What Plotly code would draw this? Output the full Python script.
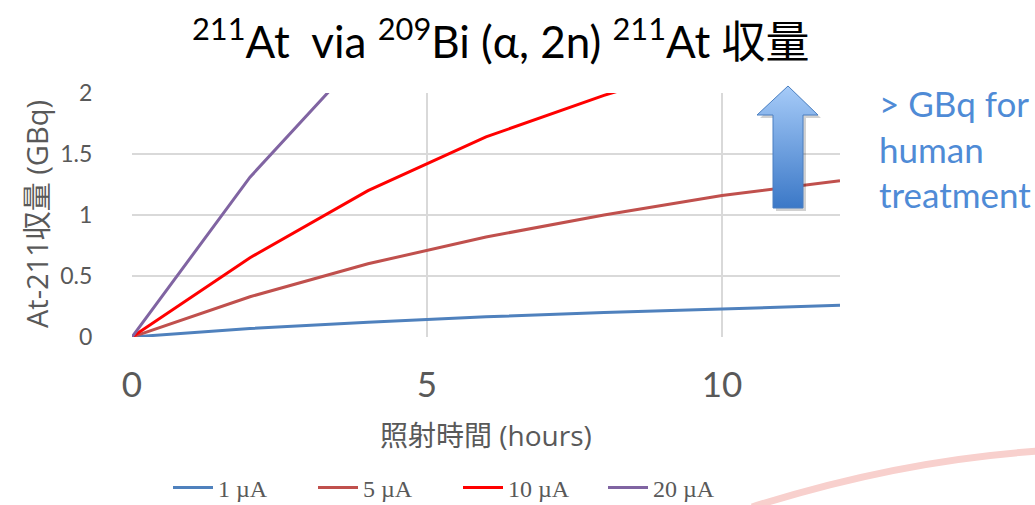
import plotly.graph_objects as go

# ---- data ----
hours = [0, 2, 4, 6, 8, 10, 12]
yield_1uA = [0, 0.07, 0.12, 0.165, 0.20, 0.23, 0.26]
yield_5uA = [0, 0.33, 0.60, 0.82, 1.00, 1.16, 1.28]
yield_10uA = [0, 0.65, 1.20, 1.64, 1.98, 2.28, 2.55]
yield_20uA = [0, 1.31, 2.36, 3.25, 4.00, 4.60, 5.10]
series_names = ["1 \u00b5A", "5 \u00b5A", "10 \u00b5A", "20 \u00b5A"]
series_colors = ["#4f81bd", "#c0504d", "#ff0000", "#8064a2"]
x_ticks = [0, 5, 10]
y_ticks = [0, 0.5, 1, 1.5, 2]
y_tick_labels = ["0", "0.5", "1", "1.5", "2"]

W, H = 1035, 505
L, R, T, B = 132, 840, 93, 337  # plot area in px

SANS = "Lato, 'Noto Sans CJK JP', sans-serif"
TSANS = "'Open Sans', 'Noto Sans CJK JP', sans-serif"
GREY = "#595959"

fig = go.Figure()
for name, col, ys in zip(series_names, series_colors,
                         [yield_1uA, yield_5uA, yield_10uA, yield_20uA]):
    fig.add_trace(go.Scatter(x=hours, y=ys, mode="lines", name=name,
                             line=dict(color=col, width=3),
                             xaxis="x", yaxis="y"))

# ---- decorative arrow on an overlay pixel-coordinate subplot ----
tip_x, tip_y = 788, 86
head_y, head_l, head_r = 115, 757, 818
sh_l, sh_r, bot = 773, 803, 208
ax = [tip_x, head_r, sh_r, sh_r, sh_l, sh_l, head_l, tip_x]
ay = [tip_y, head_y, head_y, bot, bot, head_y, head_y, tip_y]
fig.add_trace(go.Scatter(x=[v + 3 for v in ax], y=[v + 3 for v in ay],
                         mode="lines", fill="toself",
                         fillcolor="rgba(0,0,0,0.18)",
                         line=dict(width=0, color="rgba(0,0,0,0)"),
                         xaxis="x2", yaxis="y2", showlegend=False,
                         hoverinfo="skip"))
fig.add_trace(go.Scatter(x=ax, y=ay, mode="lines", fill="toself",
                         fillgradient=dict(type="vertical",
                                           colorscale=[[0, "#a6cbf8"], [1, "#3b78c7"]],
                                           start=tip_y, stop=bot),
                         line=dict(width=1, color="#4a7fc1"),
                         xaxis="x2", yaxis="y2", showlegend=False,
                         hoverinfo="skip"))

fig.update_layout(
    width=W, height=H, autosize=False,
    margin=dict(l=0, r=0, t=0, b=0, autoexpand=False),
    paper_bgcolor="white", plot_bgcolor="rgba(0,0,0,0)",
    template="none",
    xaxis=dict(domain=[L / W, R / W], range=[0, 12], tickvals=x_ticks,
               showgrid=True, gridcolor="#d9d9d9", gridwidth=1.5,
               zeroline=False, showline=False,
               ticks="outside", ticklen=17, tickcolor="rgba(0,0,0,0)",
               tickfont=dict(family=SANS, size=35, color=GREY),
               automargin=False, fixedrange=True),
    yaxis=dict(domain=[(H - B) / H, (H - T) / H], range=[0, 2],
               tickvals=y_ticks, ticktext=y_tick_labels,
               showgrid=True, gridcolor="#d9d9d9", gridwidth=1.5,
               zeroline=False, showline=False,
               ticks="outside", ticklen=34, tickcolor="rgba(0,0,0,0)",
               tickfont=dict(family=SANS, size=23, color=GREY),
               automargin=False, fixedrange=True),
    xaxis2=dict(domain=[0, 1], range=[0, W], visible=False, anchor="y2",
                fixedrange=True),
    yaxis2=dict(domain=[0, 1], range=[H, 0], visible=False, anchor="x2",
                fixedrange=True),
    legend=dict(orientation="h", x=458 / W, xanchor="center",
                y=(H - 488) / H, yanchor="middle",
                font=dict(family="'Liberation Serif', serif", size=24, color=GREY),
                bgcolor="rgba(0,0,0,0)", itemwidth=40,
                entrywidth=90),
    showlegend=True,
)

# decorative faint red arc
fig.add_shape(type="path", xref="x2", yref="y2",
              path="M 752 507 Q 900 460 1040 451",
              line=dict(color="#f8d0cd", width=7), layer="below")

ann = [
    dict(x=501, y=38,
         text="<sup>211</sup>At\u00a0\u00a0via <sup>209</sup>Bi (\u03b1, 2n) <sup>211</sup>At 収量",
         font=dict(family=SANS, size=44, color="black"),
         xanchor="center", yanchor="middle"),
    dict(x=36, y=214, text="At-211収量 (GBq)", textangle=-90,
         font=dict(family=TSANS, size=29, color=GREY),
         xanchor="center", yanchor="middle"),
    dict(x=486, y=435, text="照射時間 (hours)",
         font=dict(family=TSANS, size=28, color=GREY),
         xanchor="center", yanchor="middle"),
    dict(x=877, y=80, text="&gt; GBq for<br>human<br>treatment",
         font=dict(family=SANS, size=35, color="#4f8bd6"),
         xanchor="left", yanchor="top", align="left"),
]
for a in ann:
    fig.add_annotation(xref="x2", yref="y2", showarrow=False, **a)

fig.write_html("out.html",
               config={"responsive": False, "displayModeBar": False},
               default_width="1035px", default_height="505px",
               post_script="document.body.style.margin='0';"
                           "document.body.style.overflow='hidden';")
